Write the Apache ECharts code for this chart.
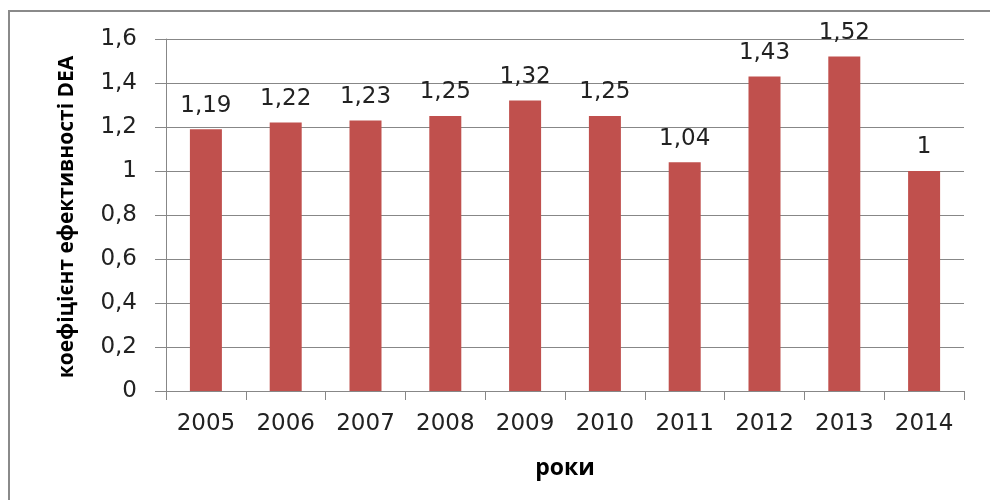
<!DOCTYPE html>
<html>
<head>
<meta charset="utf-8">
<script src="https://cdn.jsdelivr.net/npm/echarts@6/dist/echarts.min.js"></script>
<style>
  html, body { margin: 0; padding: 0; background: #fff; }
  #chart { width: 990px; height: 500px; }
</style>
</head>
<body>
<div id="chart"></div>
<script>
// Annual DEA efficiency coefficients
const years = ['2005', '2006', '2007', '2008', '2009', '2010', '2011', '2012', '2013', '2014'];
const deaValues = [1.19, 1.22, 1.23, 1.25, 1.32, 1.25, 1.04, 1.43, 1.52, 1];
const yTicks = [0, 0.2, 0.4, 0.6, 0.8, 1, 1.2, 1.4, 1.6];

const fmt = v => String(v).replace('.', ',');
const labelFont = 'DejaVu Sans, Verdana, sans-serif';
const gridGrey = '#878787';

const chart = echarts.init(document.getElementById('chart'), null, { renderer: 'canvas' });
chart.setOption({
  animation: false,
  backgroundColor: '#ffffff',
  graphic: [{
    type: 'rect',
    shape: { x: 9, y: 11, width: 1000, height: 520 },
    style: { fill: 'none', stroke: '#8a8a8a', lineWidth: 2 },
    silent: true
  }, {
    type: 'text',
    x: 57,
    y: 217,
    rotation: Math.PI / 2,
    style: {
      text: 'коефіцієнт ефективності DEA',
      font: 'bold 21px "Liberation Sans Narrow", "Open Sans", sans-serif',
      fill: '#000',
      align: 'center',
      verticalAlign: 'top'
    }
  }],
  grid: { left: 166, right: 26, top: 39, bottom: 109 },
  xAxis: {
    type: 'category',
    data: years,
    name: 'роки',
    nameLocation: 'middle',
    nameGap: 66,
    nameTextStyle: { fontFamily: '"Open Sans", sans-serif', fontWeight: 'bold', fontSize: 23, color: '#000' },
    axisLine: { lineStyle: { color: gridGrey, width: 1 } },
    axisTick: { show: true, length: 9, alignWithLabel: false, lineStyle: { color: gridGrey } },
    axisLabel: { fontFamily: labelFont, fontSize: 23, color: '#222', margin: 22 }
  },
  yAxis: {
    type: 'value',
    min: yTicks[0],
    max: yTicks[yTicks.length - 1],
    interval: 0.2,
    axisLine: { show: true, lineStyle: { color: gridGrey, width: 1 } },
    axisTick: { show: true, length: 11, lineStyle: { color: gridGrey } },
    splitLine: { lineStyle: { color: gridGrey, width: 1 } },
    axisLabel: {
      fontFamily: labelFont, fontSize: 23, color: '#222', margin: 29,
      formatter: v => fmt(Math.round(v * 10) / 10)
    }
  },
  series: [{
    type: 'bar',
    data: deaValues,
    barWidth: 32,
    itemStyle: { color: '#C0504D' },
    label: {
      show: true,
      position: 'top',
      distance: 12,
      fontFamily: labelFont,
      fontSize: 23,
      color: '#222',
      formatter: p => fmt(p.value)
    }
  }]
});
</script>
</body>
</html>
